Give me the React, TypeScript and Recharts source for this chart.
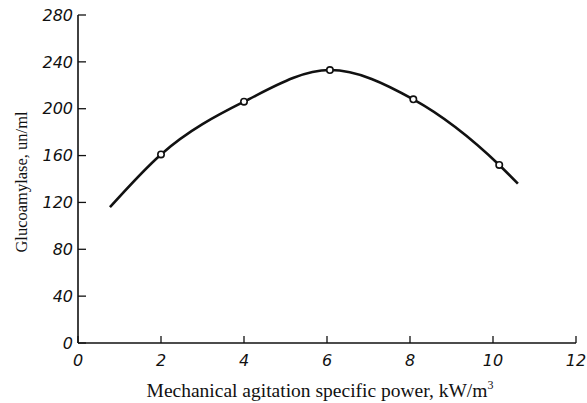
import React from "react";
import { ComposedChart, Line, Scatter, XAxis, YAxis } from "recharts";

const curvePower = [0.77, 2, 4, 6.07, 8.08, 10.15, 10.6];
const curveActivity = [116, 161, 206, 233, 208, 152, 136];

const markerPower = [2, 4, 6.07, 8.08, 10.15];
const markerActivity = [161, 206, 233, 208, 152];

const xTicks = [0, 2, 4, 6, 8, 10, 12];
const yTicks = [0, 40, 80, 120, 160, 200, 240, 280];

const xTitle = "Mechanical agitation specific power, kW/m";
const yTitle = "Glucoamylase, un/ml";

const curveData = curvePower.map((x, i) => ({ x, y: curveActivity[i] }));
const markerData = markerPower.map((x, i) => ({ x, y: markerActivity[i] }));

const tickFont = {
  fontFamily: "DejaVu Sans",
  fontStyle: "italic" as const,
  fontSize: 16,
  fill: "#111",
};

const XTitle = (props: any) => {
  const vb = props.viewBox || {};
  const cx = vb.x + vb.width / 2 - 7;
  return (
    <text
      x={cx}
      y={397}
      textAnchor="middle"
      fontFamily="Liberation Serif"
      fontSize={19.5}
      fill="#111"
    >
      {xTitle}
      <tspan dy={-8} fontSize={12}>3</tspan>
    </text>
  );
};

const YTitle = (props: any) => {
  const vb = props.viewBox || {};
  const cy = vb.y + vb.height / 2 + 3;
  return (
    <text
      x={21}
      y={cy}
      transform={`rotate(-90, 21, ${cy})`}
      textAnchor="middle"
      dominantBaseline="central"
      fontFamily="Liberation Serif"
      fontSize={16.5}
      fill="#111"
    >
      {yTitle}
    </text>
  );
};

const Ring = (props: any) => {
  const { cx, cy } = props;
  return <circle cx={cx} cy={cy} r={3.2} fill="#fff" stroke="#111" strokeWidth={1.6} />;
};

export default function App() {
  return (
    <div style={{ position: "absolute", left: 0, top: 0, background: "#fff" }}>
      <ComposedChart
        width={587}
        height={403}
        margin={{ top: 15, right: 11, bottom: 0, left: 0 }}
      >
        <XAxis
          dataKey="x"
          type="number"
          domain={[0, 12]}
          ticks={xTicks}
          allowDataOverflow
          height={60}
          axisLine={{ stroke: "#111", strokeWidth: 1.6 }}
          tickLine={{ stroke: "#111", strokeWidth: 1.3 }}
          tickSize={-7}
          tickMargin={19}
          tick={tickFont}
          label={<XTitle />}
        />
        <YAxis
          dataKey="y"
          type="number"
          domain={[0, 280]}
          ticks={yTicks}
          allowDataOverflow
          width={78}
          axisLine={{ stroke: "#111", strokeWidth: 1.6 }}
          tickLine={{ stroke: "#111", strokeWidth: 1.3 }}
          tickSize={-8}
          tickMargin={13}
          tick={tickFont}
          label={<YTitle />}
        />
        <Line
          data={curveData}
          dataKey="y"
          type="monotone"
          stroke="#111"
          strokeWidth={2.6}
          dot={false}
          activeDot={false}
          isAnimationActive={false}
        />
        <Scatter
          data={markerData}
          dataKey="y"
          shape={<Ring />}
          isAnimationActive={false}
        />
      </ComposedChart>
    </div>
  );
}
